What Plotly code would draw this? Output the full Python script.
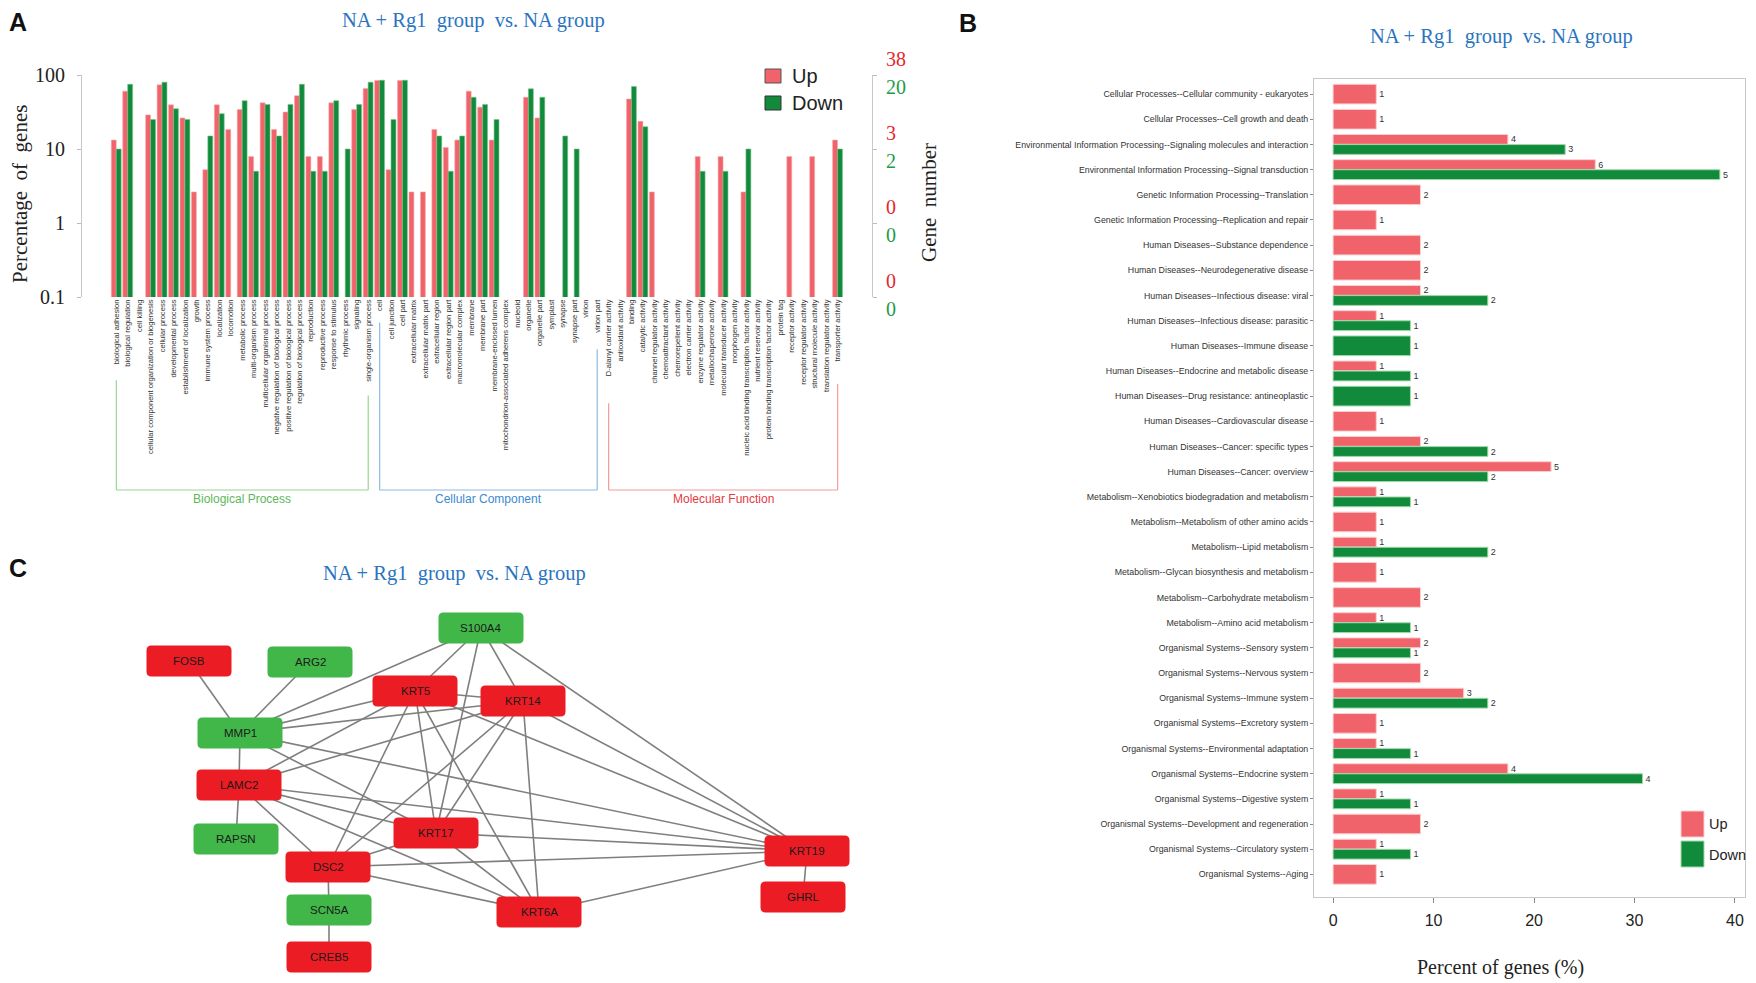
import math
import plotly.graph_objects as go

# page offset of the browser body (8 px) is compensated
OFF = 8
W, H = 1756 - OFF, 983 - OFF


def fx(px):
    return (px - OFF) / W


def fy(py):
    return 1 - (py - OFF) / H


RED = "#F0636A"
RED_EDGE = "#F7A9AC"
GREEN = "#128A3C"
GREEN_EDGE = "#77C487"
BLUE_T = "#2A74C0"
NODE_RED = "#EC1C24"
NODE_GREEN = "#41B649"

# ---------------- Panel A : GO classification ----------------
go_terms = [
    "biological adhesion", "biological regulation", "cell killing",
    "cellular component organization or biogenesis", "cellular process",
    "developmental process", "establishment of localization", "growth",
    "immune system process", "localization", "locomotion", "metabolic process",
    "multi-organism process", "multicellular organismal process",
    "negative regulation of biological process",
    "positive regulation of biological process",
    "regulation of biological process", "reproduction", "reproductive process",
    "response to stimulus", "rhythmic process", "signaling",
    "single-organism process",
    "cell", "cell junction", "cell part", "extracellular matrix",
    "extracellular matrix part", "extracellular region",
    "extracellular region part", "macromolecular complex", "membrane",
    "membrane part", "membrane-enclosed lumen",
    "mitochondrion-associated adherens complex", "nucleoid", "organelle",
    "organelle part", "symplast", "synapse", "synapse part", "virion",
    "virion part",
    "D-alanyl carrier activity", "antioxidant activity", "binding",
    "catalytic activity", "channel regulator activity",
    "chemoattractant activity", "chemorepellent activity",
    "electron carrier activity", "enzyme regulator activity",
    "metallochaperone activity", "molecular transducer activity",
    "morphogen activity", "nucleic acid binding transcription factor activity",
    "nutrient reservoir activity",
    "protein binding transcription factor activity", "protein tag",
    "receptor activity", "receptor regulator activity",
    "structural molecule activity", "translation regulator activity",
    "transporter activity",
]

go_up_pct = [
    13.2, 60.5, None, 28.9, 73.7, 39.5, 26.3, 2.63, 5.26, 39.5, 18.4, 34.2,
    7.89, 42.1, 18.4, 31.6, 52.6, 7.89, 7.89, 42.1, None, 34.2, 65.8,
    84.2, 5.26, 84.2, 2.63, 2.63, 18.4, 10.5, 13.2, 60.5, 36.8, 13.2,
    None, None, 50.0, 26.3, None, None, None, None, None,
    None, None, 47.4, 23.7, 2.63, None, None, None, 7.89, None, 7.89, None,
    2.63, None, None, None, 7.89, None, 7.89, None, 13.2,
]

go_down_pct = [
    10, 75, None, 25, 80, 35, 25, None, 15, 30, None, 45,
    5, 40, 15, 40, 75, 5, 5, 45, 10, 40, 80,
    85, 25, 85, None, None, 15, 5, 15, 50, 40, 25,
    None, None, 65, 50, None, 15, 10, None, None,
    None, None, 70, 20, None, None, None, None, 5, None, 5, None,
    10, None, None, None, None, None, None, None, 10,
]

go_groups = [
    ("Biological Process", 0, 22, "#5DB85A", "#9AD693"),
    ("Cellular Component", 23, 42, "#3C8AD2", "#8DB9E6"),
    ("Molecular Function", 43, 63, "#E3393F", "#F39A9D"),
]

pct_ticks = [0.1, 1, 10, 100]
pct_tick_text = ["0.1", "1", "10", "100"]
gene_up_ticks = ["0", "0", "3", "38"]
gene_down_ticks = ["0", "0", "2", "20"]

# ---------------- Panel B : KEGG classification ----------------
kegg_terms = [
    "Cellular Processes--Cellular community - eukaryotes",
    "Cellular Processes--Cell growth and death",
    "Environmental Information Processing--Signaling molecules and interaction",
    "Environmental Information Processing--Signal transduction",
    "Genetic Information Processing--Translation",
    "Genetic Information Processing--Replication and repair",
    "Human Diseases--Substance dependence",
    "Human Diseases--Neurodegenerative disease",
    "Human Diseases--Infectious disease: viral",
    "Human Diseases--Infectious disease: parasitic",
    "Human Diseases--Immune disease",
    "Human Diseases--Endocrine and metabolic disease",
    "Human Diseases--Drug resistance: antineoplastic",
    "Human Diseases--Cardiovascular disease",
    "Human Diseases--Cancer: specific types",
    "Human Diseases--Cancer: overview",
    "Metabolism--Xenobiotics biodegradation and metabolism",
    "Metabolism--Metabolism of other amino acids",
    "Metabolism--Lipid metabolism",
    "Metabolism--Glycan biosynthesis and metabolism",
    "Metabolism--Carbohydrate metabolism",
    "Metabolism--Amino acid metabolism",
    "Organismal Systems--Sensory system",
    "Organismal Systems--Nervous system",
    "Organismal Systems--Immune system",
    "Organismal Systems--Excretory system",
    "Organismal Systems--Environmental adaptation",
    "Organismal Systems--Endocrine system",
    "Organismal Systems--Digestive system",
    "Organismal Systems--Development and regeneration",
    "Organismal Systems--Circulatory system",
    "Organismal Systems--Aging",
]

kegg_up_n = [1, 1, 4, 6, 2, 1, 2, 2, 2, 1, None, 1, None, 1, 2, 5,
             1, 1, 1, 1, 2, 1, 2, 2, 3, 1, 1, 4, 1, 2, 1, 1]
kegg_up_pct = [4.3, 4.3, 17.4, 26.1, 8.7, 4.3, 8.7, 8.7, 8.7, 4.3, None, 4.3,
               None, 4.3, 8.7, 21.7, 4.3, 4.3, 4.3, 4.3, 8.7, 4.3, 8.7, 8.7,
               13.0, 4.3, 4.3, 17.4, 4.3, 8.7, 4.3, 4.3]
kegg_down_n = [None, None, 3, 5, None, None, None, None, 2, 1, 1, 1, 1, None,
               2, 2, 1, None, 2, None, None, 1, 1, None, 2, None, 1, 4, 1,
               None, 1, None]
kegg_down_pct = [None, None, 23.1, 38.5, None, None, None, None, 15.4, 7.7,
                 7.7, 7.7, 7.7, None, 15.4, 15.4, 7.7, None, 15.4, None, None,
                 7.7, 7.7, None, 15.4, None, 7.7, 30.8, 7.7, None, 7.7, None]
kegg_ticks = [0, 10, 20, 30, 40]

# ---------------- Panel C : PPI network ----------------
node_names = ["S100A4", "FOSB", "ARG2", "KRT5", "KRT14", "MMP1", "LAMC2",
              "RAPSN", "KRT17", "DSC2", "SCN5A", "CREB5", "KRT6A", "KRT19",
              "GHRL"]
node_reg = ["down", "up", "down", "up", "up", "down", "up", "down", "up",
            "up", "down", "up", "up", "up", "up"]
node_pos = {
    "S100A4": (481, 628), "FOSB": (189, 661), "ARG2": (310, 662),
    "KRT5": (415, 691), "KRT14": (523, 701), "MMP1": (240, 733),
    "LAMC2": (239, 785), "RAPSN": (236, 839), "KRT17": (436, 833),
    "DSC2": (328, 867), "SCN5A": (329, 910), "CREB5": (329, 957),
    "KRT6A": (539, 912), "KRT19": (807, 851), "GHRL": (803, 897),
}
edges = [
    ("FOSB", "MMP1"), ("ARG2", "MMP1"), ("MMP1", "LAMC2"), ("LAMC2", "RAPSN"),
    ("DSC2", "SCN5A"), ("SCN5A", "CREB5"), ("KRT19", "GHRL"),
    ("S100A4", "MMP1"), ("S100A4", "KRT5"), ("S100A4", "KRT17"),
    ("S100A4", "KRT14"), ("S100A4", "KRT19"),
    ("MMP1", "KRT5"), ("MMP1", "KRT14"), ("MMP1", "KRT17"), ("MMP1", "KRT19"),
    ("LAMC2", "KRT5"), ("LAMC2", "KRT14"), ("LAMC2", "KRT17"),
    ("LAMC2", "DSC2"), ("LAMC2", "KRT6A"), ("LAMC2", "KRT19"),
    ("KRT5", "KRT14"), ("KRT5", "KRT17"), ("KRT5", "DSC2"), ("KRT5", "KRT6A"),
    ("KRT5", "KRT19"),
    ("KRT14", "KRT17"), ("KRT14", "DSC2"), ("KRT14", "KRT6A"),
    ("KRT14", "KRT19"),
    ("KRT17", "DSC2"), ("KRT17", "KRT6A"), ("KRT17", "KRT19"),
    ("DSC2", "KRT6A"), ("DSC2", "KRT19"), ("KRT6A", "KRT19"),
]

title_text = "NA + Rg1  group  vs. NA group"

# =====================================================================
fig = go.Figure()

# ---- Panel A bars
idx = list(range(len(go_terms)))
fig.add_trace(go.Bar(
    x=idx, y=go_up_pct, xaxis="x", yaxis="y", name="Up",
    width=0.43, offset=-0.44,
    marker=dict(color=RED, line=dict(color=RED_EDGE, width=0.6)),
    showlegend=False, hoverinfo="x+y"))
fig.add_trace(go.Bar(
    x=idx, y=go_down_pct, xaxis="x", yaxis="y", name="Down",
    width=0.43, offset=-0.01,
    marker=dict(color=GREEN, line=dict(color=GREEN_EDGE, width=0.6)),
    showlegend=False, hoverinfo="x+y"))
# empty trace so right axis is drawn
fig.add_trace(go.Scatter(x=[], y=[], xaxis="x", yaxis="y2",
                         showlegend=False, hoverinfo="skip"))

# ---- Panel B bars (dodged when both present, full width when single)
up_y, up_w, up_x, up_t = [], [], [], []
dn_y, dn_w, dn_x, dn_t = [], [], [], []
for i in range(len(kegg_terms)):
    r = i + 1
    u, d = kegg_up_pct[i], kegg_down_pct[i]
    both = (u is not None) and (d is not None)
    if u is not None:
        up_y.append(r - 0.2 if both else r)
        up_w.append(0.39 if both else 0.78)
        up_x.append(u)
        up_t.append(str(kegg_up_n[i]))
    if d is not None:
        dn_y.append(r + 0.2 if both else r)
        dn_w.append(0.39 if both else 0.78)
        dn_x.append(d)
        dn_t.append(str(kegg_down_n[i]))

bar_txt = dict(size=9, color="#333333", family="Liberation Sans")
fig.add_trace(go.Bar(
    x=up_x, y=up_y, width=up_w, orientation="h", xaxis="x2", yaxis="y3",
    marker=dict(color=RED, line=dict(color="#FBCFD1", width=1)),
    text=up_t, textposition="outside", textfont=bar_txt,
    constraintext="none", cliponaxis=False, showlegend=False, name="Up"))
fig.add_trace(go.Bar(
    x=dn_x, y=dn_y, width=dn_w, orientation="h", xaxis="x2", yaxis="y3",
    marker=dict(color=GREEN, line=dict(color="#9FD9A9", width=1)),
    text=dn_t, textposition="outside", textfont=bar_txt,
    constraintext="none", cliponaxis=False, showlegend=False, name="Down"))

# ---- Panel C edges
ex, ey = [], []
for a, b in edges:
    ex += [node_pos[a][0], node_pos[b][0], None]
    ey += [node_pos[a][1], node_pos[b][1], None]
fig.add_trace(go.Scatter(x=ex, y=ey, mode="lines", xaxis="x3", yaxis="y4",
                         line=dict(color="#7F7F7F", width=1.6),
                         hoverinfo="skip", showlegend=False))

shapes = []
annotations = []


def note(x, y, text, size, color, family="Liberation Sans", xref="paper",
         yref="paper", xanchor="center", yanchor="middle", **kw):
    annotations.append(dict(x=x, y=y, xref=xref, yref=yref, text=text,
                            showarrow=False, xanchor=xanchor, yanchor=yanchor,
                            font=dict(family=family, size=size, color=color),
                            **kw))


# node boxes
NW, NH, R = 85, 31, 5
for name, reg in zip(node_names, node_reg):
    cx, cy = node_pos[name]
    x0, x1, y0, y1 = cx - NW / 2, cx + NW / 2, cy - NH / 2, cy + NH / 2
    path = (f"M {x0+R},{y0} L {x1-R},{y0} Q {x1},{y0} {x1},{y0+R} "
            f"L {x1},{y1-R} Q {x1},{y1} {x1-R},{y1} L {x0+R},{y1} "
            f"Q {x0},{y1} {x0},{y1-R} L {x0},{y0+R} Q {x0},{y0} {x0+R},{y0} Z")
    shapes.append(dict(type="path", path=path, xref="x3", yref="y4",
                       fillcolor=NODE_RED if reg == "up" else NODE_GREEN,
                       line=dict(width=0)))
    note(cx, cy, name, 11.5, "#1A1A1A", xref="x3", yref="y4")

# ---- Panel A group brackets
LAB_TOP = 301
BR_Y = 490
for gname, i0, i1, tcol, lcol in go_groups:
    for k in (i0, i1):
        start = LAB_TOP + 3.85 * len(go_terms[k]) + 6
        shapes.append(dict(type="line", xref="x", yref="paper", x0=k, x1=k,
                           y0=fy(start), y1=fy(BR_Y),
                           line=dict(color=lcol, width=1.2)))
    shapes.append(dict(type="line", xref="x", yref="paper", x0=i0, x1=i1,
                       y0=fy(BR_Y), y1=fy(BR_Y),
                       line=dict(color=lcol, width=1.2)))
    note((i0 + i1) / 2, fy(BR_Y + 9), gname, 12, tcol, xref="x")

# ---- Panel A right axis coloured labels
for v, tu, td in zip(pct_ticks, gene_up_ticks, gene_down_ticks):
    note(fx(884), math.log10(v), tu, 20, "#E8262C", family="Liberation Serif",
         yref="y", xanchor="left", yshift=16)
    note(fx(884), math.log10(v), td, 20, "#1E9B45", family="Liberation Serif",
         yref="y", xanchor="left", yshift=-12)


# ---- legends (manual)
def legend_box(x0, y0, x1, y1, col, edge):
    shapes.append(dict(type="rect", xref="paper", yref="paper",
                       x0=fx(x0), x1=fx(x1), y0=fy(y1), y1=fy(y0),
                       fillcolor=col, line=dict(color=edge, width=1)))


legend_box(765, 69, 781, 83, RED, "#555555")
legend_box(765, 96, 781, 110, GREEN, "#333333")
note(fx(790), fy(76), "Up", 20, "#222222", xanchor="left")
note(fx(790), fy(103), "Down", 20, "#222222", xanchor="left")

legend_box(1681, 811, 1704, 837, RED, "#FBCFD1")
legend_box(1681, 841, 1704, 867, GREEN, "#9FD9A9")
note(fx(1707), fy(824), "Up", 14.5, "#222222", xanchor="left")
note(fx(1707), fy(855), "Down", 14.5, "#222222", xanchor="left")

# ---- titles, axis titles, panel letters
for (x, y) in [(474, 21), (1501, 36), (455, 573)]:
    note(fx(x), fy(y), title_text, 20.5, BLUE_T, family="Liberation Serif")
note(fx(20), fy(194), "Percentage  of  genes", 21, "#222222",
     family="Liberation Serif", textangle=-90)
note(fx(929), fy(203), "Gene  number", 21, "#222222",
     family="Liberation Serif", textangle=-90)
note(fx(1500), fy(967), "Percent of genes (%)", 20, "#222222",
     family="Liberation Serif")
for (x, y, t) in [(18, 22, "A"), (968, 23, "B"), (18, 568, "C")]:
    note(fx(x), fy(y), f"<b>{t}</b>", 25, "#111111")

fig.update_layout(
    width=W, height=H, autosize=False,
    margin=dict(l=0, r=0, t=0, b=0, pad=0, autoexpand=False),
    paper_bgcolor="white", plot_bgcolor="white",
    barmode="overlay", showlegend=False,
    shapes=shapes, annotations=annotations,
    xaxis=dict(domain=[fx(82), fx(872)], range=[-3, 66], anchor="y",
               automargin=False,
               tickmode="array", tickvals=idx, ticktext=go_terms,
               tickangle=-90, ticks="", showline=False, showgrid=False,
               zeroline=False,
               tickfont=dict(family="Liberation Sans", size=7.6,
                             color="#333333")),
    yaxis=dict(domain=[fy(297), fy(75)], type="log", range=[-1, 2],
               anchor="x", automargin=False,
               tickmode="array", tickvals=pct_ticks,
               ticktext=pct_tick_text, ticks="outside", ticklen=4,
               tickcolor="#BBBBBB", showline=True, linecolor="#C8C8C8",
               linewidth=1, showgrid=False, zeroline=False,
               ticklabelstandoff=8,
               tickfont=dict(family="Liberation Serif", size=20,
                             color="#222222")),
    yaxis2=dict(overlaying="y", side="right", anchor="x", type="log",
                automargin=False,
                range=[-1, 2], tickmode="array", tickvals=pct_ticks,
                showticklabels=False, ticks="outside", ticklen=4,
                tickcolor="#BBBBBB", showline=True, linecolor="#C8C8C8",
                linewidth=1, showgrid=False, zeroline=False),
    xaxis2=dict(domain=[fx(1314), fx(1745)], range=[-1.9, 41.0],
                anchor="y3", automargin=False,
                tickmode="array", tickvals=kegg_ticks,
                ticks="outside", ticklen=5, tickcolor="#888888",
                showline=True, mirror=True, linecolor="#C8C8C8",
                showgrid=False, zeroline=False, ticklabelstandoff=4,
                tickfont=dict(family="Liberation Sans", size=16,
                              color="#222222")),
    yaxis3=dict(domain=[fy(897), fy(79)], range=[32.9, 0.4], anchor="x2",
                automargin=False,
                tickmode="array", tickvals=list(range(1, len(kegg_terms) + 1)),
                ticktext=kegg_terms, ticks="outside", ticklen=3,
                tickcolor="#888888", showline=True, mirror=True,
                linecolor="#C8C8C8", showgrid=False, zeroline=False,
                tickfont=dict(family="Liberation Sans", size=8.8,
                              color="#333333")),
    xaxis3=dict(domain=[fx(OFF), fx(900)], range=[OFF, 900], anchor="y4",
                visible=False, fixedrange=True, automargin=False),
    yaxis4=dict(domain=[fy(983), fy(540)], range=[983, 540], anchor="x3",
                visible=False, fixedrange=True, automargin=False),
)

fig.write_html("out.html")
